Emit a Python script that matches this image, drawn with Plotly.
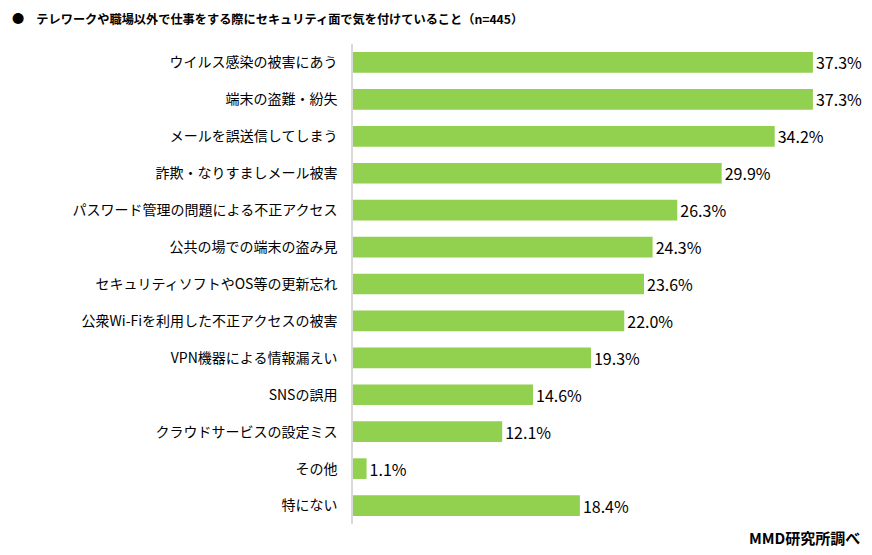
import plotly.graph_objects as go

categories = [
    "ウイルス感染の被害にあう",
    "端末の盗難・紛失",
    "メールを誤送信してしまう",
    "詐欺・なりすましメール被害",
    "パスワード管理の問題による不正アクセス",
    "公共の場での端末の盗み見",
    "セキュリティソフトやOS等の更新忘れ",
    "公衆Wi-Fiを利用した不正アクセスの被害",
    "VPN機器による情報漏えい",
    "SNSの誤用",
    "クラウドサービスの設定ミス",
    "その他",
    "特にない",
]
values = [37.3, 37.3, 34.2, 29.9, 26.3, 24.3, 23.6, 22.0, 19.3, 14.6, 12.1, 1.1, 18.4]
value_labels = [f"{v:.1f}%" for v in values]

title_text = "●　テレワークや職場以外で仕事をする際にセキュリティ面で気を付けていること（n=445）"
source_text = "MMD研究所調べ"

font_jp = "Noto Sans CJK JP"

W, H = 872, 555
ML, MR, MT, MB = 353, 26, 44, 31
plot_w = W - ML - MR

fig = go.Figure(
    go.Bar(
        x=values,
        y=categories,
        orientation="h",
        marker=dict(color="#92D050", line=dict(width=0)),
        text=value_labels,
        textposition="outside",
        constraintext="none",
        textfont=dict(family=font_jp, size=16, color="#000000"),
        cliponaxis=False,
        width=0.56,
        hoverinfo="skip",
    )
)

fig.update_layout(
    width=W,
    height=H,
    paper_bgcolor="white",
    plot_bgcolor="white",
    margin=dict(l=ML, r=MR, t=MT, b=MB, autoexpand=False),
    showlegend=False,
    font=dict(family=font_jp, size=14, color="#000000"),
    xaxis=dict(
        range=[0, plot_w / 12.33],
        showgrid=False,
        zeroline=False,
        showticklabels=False,
        showline=False,
        fixedrange=True,
    ),
    yaxis=dict(
        autorange="reversed",
        showgrid=False,
        showline=True,
        linecolor="#D9D9D9",
        linewidth=1.5,
        ticks="",
        ticklabelstandoff=11,
        tickfont=dict(family=font_jp, size=14, color="#000000"),
        fixedrange=True,
    ),
    annotations=[
        dict(
            text=f"<b>{title_text}</b>",
            xref="paper", yref="paper",
            x=-ML / plot_w, y=1,
            xshift=10, yshift=MT - 19,
            xanchor="left", yanchor="middle",
            showarrow=False,
            font=dict(family=font_jp, size=12.2, color="#000000"),
        ),
        dict(
            text=f"<b>{source_text}</b>",
            xref="paper", yref="paper",
            x=1, y=0,
            xshift=MR - 10, yshift=-(537 - (H - MB)),
            xanchor="right", yanchor="middle",
            showarrow=False,
            font=dict(family=font_jp, size=15, color="#000000"),
        ),
    ],
)

fig.write_html(
    "out.html",
    config={"displayModeBar": False},
    post_script="document.body.style.margin='0';",
)
